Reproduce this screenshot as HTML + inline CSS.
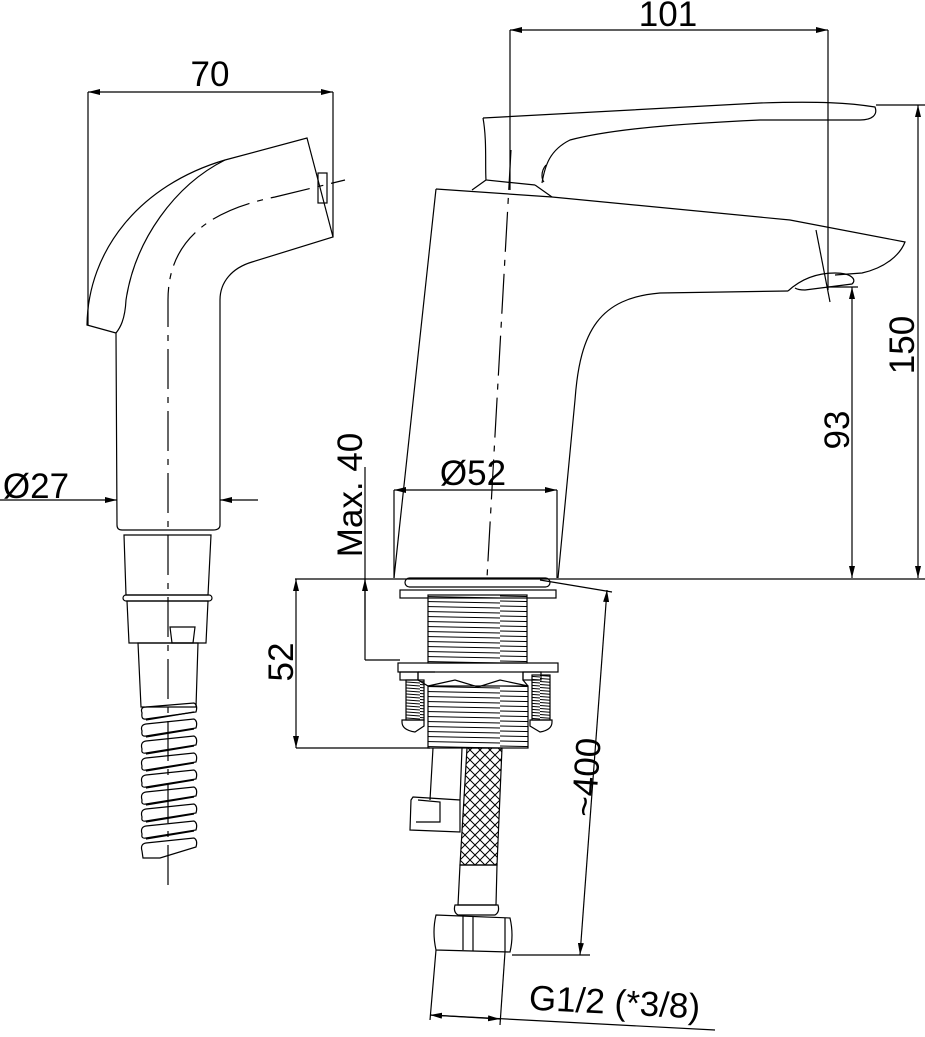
<!DOCTYPE html>
<html><head><meta charset="utf-8"><style>
html,body{margin:0;padding:0;background:#fff}
svg{display:block}
text{font-family:"Liberation Sans",sans-serif;font-size:35px;fill:#000}
</style></head><body>
<svg width="925" height="1037" viewBox="0 0 925 1037" xmlns="http://www.w3.org/2000/svg">
<defs>
<marker id="a" viewBox="0 0 12 6" refX="12" refY="3" markerWidth="12" markerHeight="6" orient="auto-start-reverse" markerUnits="userSpaceOnUse"><path d="M0,0 L12,3 L0,6z" fill="#000"/></marker>
<pattern id="braid" width="10" height="10" patternUnits="userSpaceOnUse"><path d="M0,0 L10,10 M10,0 L0,10" stroke="#000" stroke-width="1"/></pattern>
<pattern id="thr" width="100" height="5" patternUnits="userSpaceOnUse"><path d="M0,1 L100,3" stroke="#000" stroke-width="1"/></pattern>
<pattern id="thr2" width="20" height="3" patternUnits="userSpaceOnUse"><path d="M0,0.5 L20,2" stroke="#000" stroke-width="1"/></pattern>
</defs>
<g fill="none" stroke="#000" stroke-width="1.2">
<!-- ===== Hand shower ===== -->
<line x1="88" y1="92" x2="88" y2="325"/>
<line x1="333" y1="92" x2="333" y2="237"/>
<line x1="88" y1="92" x2="333" y2="92" marker-start="url(#a)" marker-end="url(#a)"/>
<path d="M87,325 C88,250 140,185 225,160 L307,138 L333,237 L252,262 C232,268 220,282 220,300 L220,525 Q220,530 213,530 L122,530 Q117,530 117,525 L116,333 Z"/>
<path d="M225,160 C175,185 135,240 126,300 C125,320 120,328 116,333"/>
<rect x="318" y="173" width="9" height="30"/>
<path d="M168,885 L168,300 C168,240 210,210 275,197 L345,180" stroke-dasharray="40,8,6,8"/>
<!-- Ø27 -->
<line x1="0" y1="500" x2="117" y2="500" marker-end="url(#a)"/>
<line x1="258" y1="500" x2="220" y2="500" marker-end="url(#a)"/>
<!-- collar -->
<path d="M124,535 L211,535 L208,595 L126,595 Z"/>
<rect x="123" y="595" width="89" height="6" rx="3"/>
<path d="M127,601 L208,601 L206,643 L129,643 Z"/>
<path d="M170,627 L195,627 L193,643 L172,643 Z"/>
<path d="M138,643 L198,643 L196,707 L141,707 Z"/>
<!-- spring coils -->
<g>
<path d="M142,713 Q140,707 146,707 L194,703 Q198,705 196,712 L146,719 Q141,720 142,713 Z"/>
<path d="M142,731 Q140,725 146,724 L194,719 Q198,721 196,728 L146,736 Q141,737 142,731 Z"/>
<path d="M142,749 Q140,742 146,741 L194,736 Q198,738 196,745 L146,753 Q141,754 142,749 Z"/>
<path d="M142,766 Q140,759 146,758 L194,753 Q198,755 196,762 L146,770 Q141,771 142,766 Z"/>
<path d="M142,783 Q140,776 146,775 L194,770 Q198,772 196,779 L146,787 Q141,788 142,783 Z"/>
<path d="M142,800 Q140,793 146,792 L194,787 Q198,789 196,796 L146,804 Q141,805 142,800 Z"/>
<path d="M142,817 Q140,810 146,809 L194,804 Q198,806 196,813 L146,821 Q141,822 142,817 Z"/>
<path d="M142,834 Q140,827 146,826 L194,821 Q198,823 196,830 L146,838 Q141,839 142,834 Z"/>
<path d="M142,851 Q140,844 146,843 L194,838 Q198,840 196,847 L160,858 L143,858 Z"/>
<path d="M146,720 L194,712 M146,737 L194,729 M146,754 L194,746 M146,771 L194,763 M146,788 L194,780 M146,805 L194,797 M146,822 L194,814 M146,839 L194,831"/>
</g>
<!-- ===== Faucet ===== -->
<line x1="510" y1="30" x2="510" y2="190"/>
<line x1="828" y1="30" x2="828" y2="290"/>
<line x1="510" y1="30" x2="828" y2="30" marker-start="url(#a)" marker-end="url(#a)"/>
<!-- 150 -->
<line x1="876" y1="105" x2="925" y2="105"/>
<line x1="918" y1="105" x2="918" y2="578" marker-start="url(#a)" marker-end="url(#a)"/>
<!-- 93 -->
<line x1="828" y1="287" x2="858" y2="287"/>
<line x1="852" y1="287" x2="852" y2="578" marker-start="url(#a)" marker-end="url(#a)"/>
<!-- handle -->
<path d="M483,118 L760,103 C820,101 850,103 875,107 C878,115 872,120 860,120 L760,120 C650,125 600,132 570,140 C550,150 545,165 542,183"/>
<path d="M483,118 C487,140 485,165 486,180 L535,185"/>
<path d="M472,190 L486,180 M535,185 L552,197"/>
<path d="M546,165 C540,172 542,180 544,182"/>
<!-- body -->
<path d="M436,189 L552,197 L790,220 L905,242 C900,255 885,268 862,273 L835,275"/>
<path d="M436,189 L394,578"/>
<path d="M788,291 L660,293 C600,298 580,330 575,400 L558,578"/>
<path d="M788,291 C800,280 815,273 835,273 C852,273 857,280 852,284 L805,290 Q798,290 795,288"/>
<line x1="816" y1="230" x2="830" y2="302"/>
<line x1="511" y1="150" x2="487" y2="578" stroke-dasharray="40,8,6,8"/>
<!-- Ø52 -->
<line x1="394" y1="490" x2="394" y2="578"/>
<line x1="557" y1="490" x2="557" y2="578"/>
<line x1="394" y1="490" x2="557" y2="490" marker-start="url(#a)" marker-end="url(#a)"/>
<!-- base -->
<line x1="295" y1="579" x2="925" y2="579"/>
<!-- Max 40 -->
<line x1="365" y1="467" x2="365" y2="660"/>
<line x1="365" y1="620" x2="365" y2="579" marker-end="url(#a)"/>
<line x1="365" y1="660" x2="400" y2="660"/>
<!-- 52 -->
<line x1="296" y1="579" x2="296" y2="748" marker-start="url(#a)" marker-end="url(#a)"/>
<line x1="296" y1="748" x2="430" y2="748"/>
<!-- under parts -->
<rect x="405" y="578" width="145" height="9" rx="4.5"/>
<line x1="540" y1="580" x2="612" y2="592"/>
<rect x="400" y="590" width="156" height="8"/>
<rect x="428" y="595" width="99" height="68" fill="url(#thr)"/>
<rect x="398" y="663" width="160" height="9"/>
<rect x="400" y="672" width="18" height="8"/>
<rect x="523" y="672" width="18" height="8"/>
<path d="M418,672 L418,680 L428,686 M523,672 L523,680 L528,686 M418,672 L435,672"/>
<path d="M428,686 L455,680 L478,687 L500,680 L528,686"/>
<rect x="406" y="680" width="18" height="40" fill="url(#thr2)"/>
<rect x="532" y="675" width="18" height="45" fill="url(#thr2)"/>
<path d="M402,722 Q402,730 415,732 L424,726 L424,720 L402,720 Z"/>
<path d="M552,722 Q552,730 540,732 L530,726 L530,720 L552,720 Z"/>
<rect x="428" y="686" width="100" height="62" fill="url(#thr)"/>
<!-- side tube -->
<path d="M433,748 L430,800 M462,748 L460,800"/>
<path d="M413,797 L460,800 L460,832 L410,830 L411,800 Z"/>
<path d="M418,800 L440,802 L440,822 L416,822"/>
<!-- braided hose -->
<path d="M467,748 L502,748 L497,865 L460,865 Z" fill="url(#braid)"/>
<path d="M460,865 L497,865 L496,905 L458,905 Z"/>
<path d="M455,905 L498,905 Q500,912 495,915 L458,915 Q453,912 455,905 Z"/>
<path d="M436,915 L510,918 Q514,935 510,952 L436,950 Q432,932 436,915 Z"/>
<line x1="463" y1="916" x2="463" y2="950"/>
<line x1="473" y1="916" x2="473" y2="951"/>
<line x1="505" y1="918" x2="505" y2="952"/>
<!-- ~400 -->
<line x1="607" y1="590" x2="580" y2="955" marker-start="url(#a)" marker-end="url(#a)"/>
<line x1="512" y1="955" x2="590" y2="955"/>
<!-- G1/2 -->
<line x1="436" y1="950" x2="430" y2="1020"/>
<line x1="505" y1="952" x2="500" y2="1025"/>
<line x1="430" y1="1015" x2="715" y2="1030"/>
<line x1="430" y1="1015" x2="500" y2="1019" marker-start="url(#a)" marker-end="url(#a)"/>
</g>
<!-- text -->
<text x="210" y="86" text-anchor="middle">70</text>
<text x="668" y="26" text-anchor="middle">101</text>
<text x="36" y="498" text-anchor="middle">Ø27</text>
<text x="473" y="485" text-anchor="middle">Ø52</text>
<text transform="translate(914,345) rotate(-90)" text-anchor="middle">150</text>
<text transform="translate(849,430) rotate(-90)" text-anchor="middle">93</text>
<text transform="translate(362,495) rotate(-90)" text-anchor="middle">Max. 40</text>
<text transform="translate(293,662) rotate(-90)" text-anchor="middle">52</text>
<text transform="translate(598,778) rotate(-86)" text-anchor="middle">~400</text>
<text transform="translate(614,1014) rotate(3)" text-anchor="middle">G1/2 (*3/8)</text>
</svg>
</body></html>
